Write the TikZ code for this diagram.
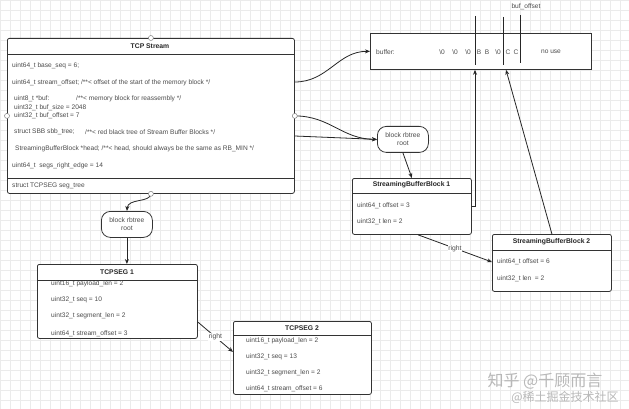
\documentclass[tikz,border=0pt]{standalone}
\usepackage{fontspec}
\setmainfont{Liberation Sans}
\newfontfamily\cjkfont{Noto Sans CJK SC}
\usetikzlibrary{arrows.meta}
\begin{document}
\begin{tikzpicture}[x=1pt,y=-1pt,
  box/.style={draw=black!80, line width=0.8pt, rounded corners=2pt, fill=white, anchor=north west, inner sep=0},
  pill/.style={draw=black!80, line width=0.8pt, rounded corners=9pt, fill=white, anchor=north west, inner sep=0, align=center, font=\fontsize{6.7}{8}\selectfont, text=black!70},
  sep/.style={draw=black!80, line width=0.7pt},
  txt/.style={font=\fontsize{6.6}{7.5}\selectfont, text=black!70, inner sep=0, anchor=west},
  ctxt/.style={font=\fontsize{6.6}{7.5}\selectfont, text=black!70, inner sep=0},
  ttl/.style={font=\fontsize{6.8}{7.5}\selectfont\bfseries, text=black!85, inner sep=0},
  arr/.style={draw=black!85, line width=0.8pt, -{Stealth[length=5pt,width=4pt]}},
  plain/.style={draw=black!85, line width=0.8pt},
  port/.style={circle, draw=black!50, fill=white, line width=0.5pt, inner sep=0, minimum size=5pt},
  lbl/.style={font=\fontsize{6.8}{7.5}\selectfont, text=black!70, fill=white, inner sep=0.6pt},
  wm/.style={text=black!28, inner sep=0}
]
\useasboundingbox (0,0) rectangle (629,409);
\fill[white] (0,0) rectangle (629,409);
\draw[black!8, line width=0.4pt, step=10pt] (0,0) grid (629,409);

% ---------- boxes ----------
\node[box, minimum width=287pt, minimum height=155pt] (tcp) at (7,38) {};
\node[box, rounded corners=0pt, minimum width=221pt, minimum height=36pt] (buf) at (370,33) {};
\node[pill, minimum width=51pt, minimum height=26pt] (rb1) at (377,126) {block rbtree\\root};
\node[box, minimum width=119pt, minimum height=56pt] (sbb1) at (352,178) {};
\node[box, minimum width=119pt, minimum height=57pt] (sbb2) at (492,234) {};
\node[pill, minimum width=51pt, minimum height=26pt] (rb2) at (101,211) {block rbtree\\root};
\node[box, minimum width=160pt, minimum height=74pt] (seg1) at (37,264) {};
\node[box, minimum width=138pt, minimum height=73pt] (seg2) at (233,321) {};

% separators
\draw[sep] (tcp.west |- 0,54) -- (tcp.east |- 0,54);
\draw[sep] (tcp.west |- 0,178) -- (tcp.east |- 0,178);
\draw[sep] (sbb1.west |- 0,193) -- (sbb1.east |- 0,193);
\draw[sep] (sbb2.west |- 0,250) -- (sbb2.east |- 0,250);
\draw[sep] (seg1.west |- 0,280) -- (seg1.east |- 0,280);
\draw[sep] (seg2.west |- 0,335) -- (seg2.east |- 0,335);

% ---------- TCP Stream texts ----------
\node[ttl] (tcpT) at (150,46) {TCP Stream};
\node[txt] (a1) at (12,66) {uint64\_t base\_seq = 6;};
\node[txt] (a2) at (12,83) {uint64\_t stream\_offset; /**< offset of the start of the memory block */};
\node[txt] (a3) at (14,99) {uint8\_t *buf:};
\node[txt] (a3b) at (76,99) {/**< memory block for reassembly */};
\node[txt] (a4) at (14,108) {uint32\_t buf\_size = 2048};
\node[txt] (a5) at (14,116) {uint32\_t buf\_offset = 7};
\node[txt] (a6) at (14,132) {struct SBB sbb\_tree;};
\node[txt] (a6b) at (85,132) {/**< red black tree of Stream Buffer Blocks */};
\node[txt] (a7) at (15,149) {StreamingBufferBlock *head; /**< head, should always be the same as RB\_MIN */};
\node[txt] (a8) at (12,166) {uint64\_t\ \ segs\_right\_edge = 14};
\node[txt] (a9) at (12,186) {struct TCPSEG seg\_tree};

% ---------- buffer ----------
\draw[plain] (475,16) -- (475,65);
\draw[plain] (503,17) -- (503,65);
\draw[plain] (520,15) -- (520,63);
\node[txt] (b0) at (376,52) {buffer:};
\node[ctxt] (b1) at (442,52) {\textbackslash 0};
\node[ctxt] (b2) at (455,52) {\textbackslash 0};
\node[ctxt] (b3) at (468,52) {\textbackslash 0};
\node[ctxt] (b4) at (479,52) {B};
\node[ctxt] (b5) at (487,52) {B};
\node[ctxt] (b6) at (498,52) {\textbackslash 0};
\node[ctxt] (b7) at (508,52) {C};
\node[ctxt] (b8) at (516,52) {C};
\node[ctxt] (b9) at (551,52) {no use};
\node[ctxt] (boff) at (526,7) {buf\_offset};

% ---------- SBB texts ----------
\node[ttl] (s1T) at (411.5,185) {StreamingBufferBlock 1};
\node[txt] (s11) at (357,206) {uint64\_t offset = 3};
\node[txt] (s12) at (357,222) {uint32\_t len = 2};
\node[ttl] (s2T) at (551.5,242) {StreamingBufferBlock 2};
\node[txt] (s21) at (497,262) {uint64\_t offset = 6};
\node[txt] (s22) at (497,279) {uint32\_t len\ \ = 2};

% ---------- TCPSEG texts ----------
\node[ttl] (g1T) at (117,272) {TCPSEG 1};
\node[txt] (g11) at (51,284) {uint16\_t payload\_len = 2};
\node[txt] (g12) at (51,300) {uint32\_t seq = 10};
\node[txt] (g13) at (51,316) {uint32\_t segment\_len = 2};
\node[txt] (g14) at (51,334) {uint64\_t stream\_offset = 3};
\node[ttl] (g2T) at (302,328) {TCPSEG 2};
\node[txt] (g21) at (246,341) {uint16\_t payload\_len = 2};
\node[txt] (g22) at (246,357) {uint32\_t seq = 13};
\node[txt] (g23) at (246,373) {uint32\_t segment\_len = 2};
\node[txt] (g24) at (246,389) {uint64\_t stream\_offset = 6};

% ---------- connectors ----------
\coordinate (bufA) at (buf.south -| 475,0);
\coordinate (bufB) at (buf.south -| 506,0);
\draw[arr] (tcp.east |- 0,82) .. controls (328,82) and (338,51) .. (buf.west);
\draw[arr] (tcp.east) .. controls (330,116) and (342,139) .. (rb1.west);
\draw[arr] (tcp.east |- 0,136) -- (rb1.west);
\draw[arr] (rb1.south) -- (sbb1.north);
\draw[arr] (sbb1.east |- 0,206) -| (bufA);
\draw[arr] (sbb2.north) -- (bufB);
\draw[arr] (sbb1.south -| 418,0) -- node[lbl] (r1) {right} (sbb2.west |- 0,262);
\draw[arr] (tcp.south) .. controls (150,203) and (128,198) .. (rb2.north);
\draw[arr] (rb2.south) -- (seg1.north -| rb2.south);
\draw[arr] (seg1.east |- 0,322) -- node[lbl] (r2) {right} (seg2.west |- 0,352);

% ports
\node[port] (p1) at (tcp.north) {};
\node[port] (p2) at (tcp.west) {};
\node[port] (p3) at (tcp.east) {};
\node[port] (p4) at (tcp.south) {};

% watermark
\node[wm, font=\cjkfont\fontsize{16}{17}\selectfont] (wm1) at (545,381) {知乎 @千顾而言};
\node[wm, font=\cjkfont\fontsize{12}{13}\selectfont] (wm2) at (565,397) {@稀土掘金技术社区};
\end{tikzpicture}
\end{document}
